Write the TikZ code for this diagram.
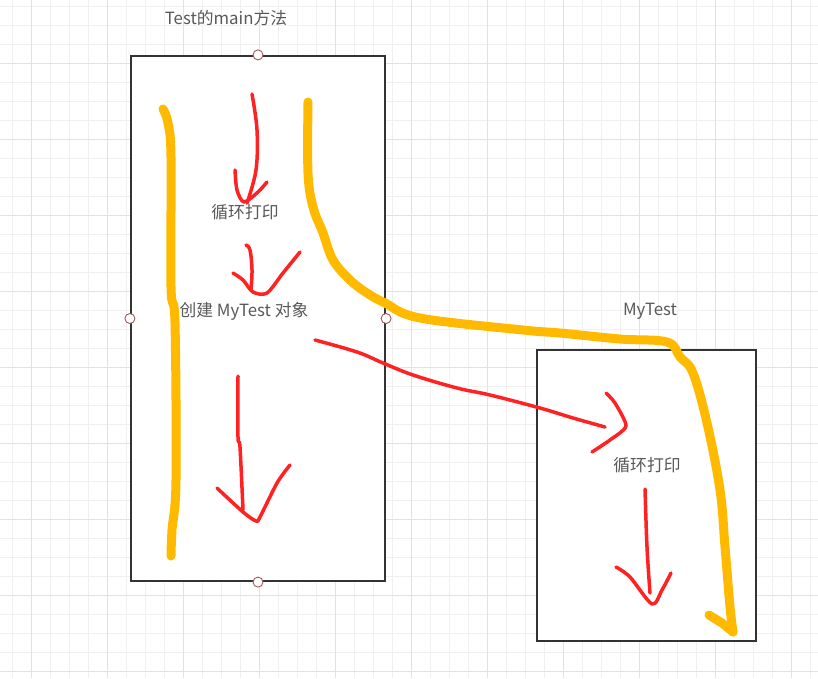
\documentclass[tikz,border=0pt]{standalone}
\usepackage{fontspec}
\newfontfamily\cjk{Noto Sans CJK SC}
\definecolor{penyellow}{RGB}{255,186,0}
\definecolor{penred}{RGB}{255,34,34}
\definecolor{gridminor}{RGB}{240,240,240}
\definecolor{gridmajor}{RGB}{226,226,226}
\definecolor{textgray}{RGB}{89,89,89}
\definecolor{handlered}{RGB}{160,90,90}

\tikzset{
  box/.style={draw=black!80, line width=2.2pt, fill=white, inner sep=0pt},
  handledot/.style={circle, draw=handlered, fill=white, line width=0.9pt,
    minimum size=10pt, inner sep=0pt},
  boxtext/.style={text=textgray, font=\cjk\fontsize{16.8}{20}\selectfont, inner sep=0pt},
  yellowpen/.style={penyellow, line width=9pt, line cap=round, line join=round},
  redpen/.style={penred, line width=3.5pt, line cap=round, line join=round},
}

\begin{document}
\begin{tikzpicture}[x=1pt,y=-1pt]
    \useasboundingbox (0,0) rectangle (818,678);

    % Siatka tla
    \foreach \Xg in {12,31,...,818}
    {
      \draw[gridminor,line width=1pt] (\Xg,0) -- (\Xg,678);
    }
    \foreach \Yg in {6,25,...,678}
    {
      \draw[gridminor,line width=1pt] (0,\Yg) -- (818,\Yg);
    }
    \foreach \Xg in {31,107,...,818}
    {
      \draw[gridmajor,line width=1pt] (\Xg,0) -- (\Xg,678);
    }
    \foreach \Yg in {63,139,...,678}
    {
      \draw[gridmajor,line width=1pt] (0,\Yg) -- (818,\Yg);
    }

    % Prostokaty
    \node[box, minimum width=254pt, minimum height=525pt] (mainbox) at (258,318.5) {};
    \node[box, minimum width=219pt, minimum height=291pt] (mytestbox) at (646.5,495.5) {};

    % Uchwyty na krawedziach
    \foreach \Hp in {north,south,west,east}
    {
      \node[handledot] (handle-\Hp) at (mainbox.\Hp) {};
    }

    % Napisy
    \node[boxtext] (maintitle) at (226,18) {Test的main方法};
    \node[boxtext] (mainloop) at (245,212) {循环打印};
    \node[boxtext] (create) at (244,311) {创建 MyTest 对象};
    \node[boxtext] (mytesttitle) at (650,311) {MyTest};
    \node[boxtext] (mytestloop) at (647,465) {循环打印};

    % Zolte linie
    \draw[yellowpen] plot[smooth,tension=0.6] coordinates
      {(163,109) (168,123) (171,157) (171,287) (175,323) (176,480) (172,530) (171,556)};
    \draw[yellowpen] plot[smooth,tension=0.6] coordinates
      {(308,102) (308,173) (313,207) (323,233) (333,260) (350,280) (367,293)
       (385,303) (420,318) (523,330) (560,333) (620,339) (667,342) (680,357)
       (693,373) (707,423) (720,490) (725,547) (730,607) (733,632)};
    \draw[yellowpen] (709,615) -- (722,623) -- (733,632);

    % Czerwone strzalki
    % Glowny watek, pierwsza petla
    \draw[redpen] plot[smooth,tension=0.6] coordinates
      {(252,94) (257,130) (256,170) (247,203)};
    \draw[redpen] plot[smooth,tension=0.5] coordinates
      {(235,170) (237,190) (244,202) (258,192) (267,182)};

    % Do tworzenia obiektu
    \draw[redpen] plot[smooth,tension=0.6] coordinates
      {(246,245) (250,250) (252,270) (251,290)};
    \draw[redpen] plot[smooth,tension=0.5] coordinates
      {(233,273) (243,280) (253,292) (267,293) (283,273) (300,252)};

    % Dalej w main
    \draw[redpen] plot[smooth,tension=0.5] coordinates
      {(238,376) (238,437) (240,447) (243,510)};
    \draw[redpen] plot[smooth,tension=0.5] coordinates
      {(217,488) (243,512) (256,521) (260,517) (277,483) (290,465)};

    % Do MyTest
    \draw[redpen] plot[smooth,tension=0.6] coordinates
      {(315,340) (357,352) (383,363) (413,375) (457,388) (490,395) (540,408)
       (573,418) (605,427)};
    \draw[redpen] plot[smooth,tension=0.4] coordinates
      {(606,393) (615,403) (626,426) (610,440) (592,452)};

    % Petla w MyTest
    \draw[redpen] plot[smooth,tension=0.6] coordinates
      {(645,489) (647,547) (650,593)};
    \draw[redpen] plot[smooth,tension=0.5] coordinates
      {(616,567) (630,577) (652,604) (662,590) (671,573)};

\end{tikzpicture}
\end{document}
